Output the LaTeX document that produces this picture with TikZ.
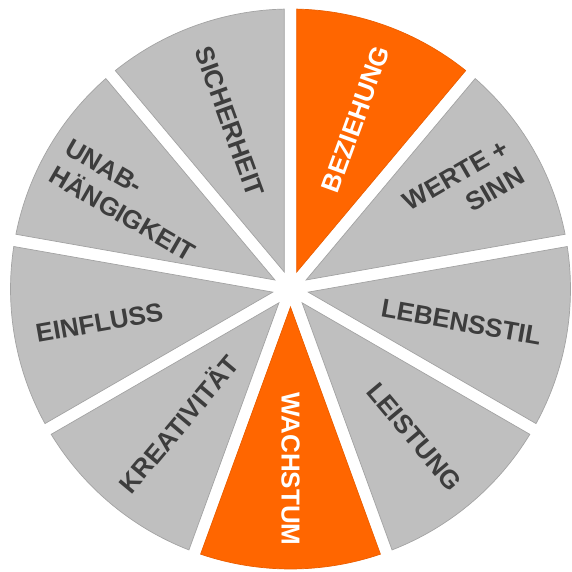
\documentclass[tikz,border=0pt]{standalone}
\usepackage{fontspec}
\setmainfont{Liberation Sans}
\usetikzlibrary{calc}
\definecolor{segGray}{HTML}{BFBFBF}
\definecolor{segEdge}{HTML}{A3A3A3}
\definecolor{segOrange}{HTML}{FF6600}
\definecolor{txtDark}{HTML}{3D3D3D}
\newcommand\mysector[2]{\path[#2] ($(C)+(#1:18)$) -- ($(C)+({#1+18.73}:280)$) arc[start angle={#1+18.73}, end angle={#1-18.73}, radius=280] -- cycle;}
\begin{document}
\begin{tikzpicture}[x=1pt,y=1pt]
\tikzset{
  sector/.style={fill=segGray, draw=segEdge, line width=0.7pt},
  hot/.style={fill=segOrange, draw=segOrange!92!black, line width=0.7pt},
  lbl/.style={font=\fontsize{26}{32}\selectfont\bfseries, text=txtDark, inner sep=0pt},
  lblw/.style={lbl, text=white}
}
\useasboundingbox (0,0) rectangle (571,572);
\coordinate (C) at (290.5,283);
\mysector{110}{sector}
\mysector{70}{hot}
\mysector{30}{sector}
\mysector{-10}{sector}
\mysector{-50}{sector}
\mysector{-90}{hot}
\mysector{-130}{sector}
\mysector{190}{sector}
\mysector{150}{sector}
\node[lbl, rotate=-70] (sich) at ($(C)+(110:178)$) {SICHERHEIT};
\node[lblw, rotate=70] (bez) at ($(C)+(69:182)$) {BEZIEHUNG};
\node[lbl, rotate=30, align=right] (werte) at ($(C)+(30:200)$) {WERTE +\\SINN};
\node[lbl, rotate=-10] (leb) at ($(C)+(-11:174)$) {LEBENSSTIL};
\node[lbl, rotate=-50] (leist) at ($(C)+(-50:193)$) {LEISTUNG};
\node[lblw, rotate=-90] (wachs) at ($(C)+(-90:180)$) {WACHSTUM};
\node[lbl, rotate=50] (krea) at ($(C)+(-130:175)$) {KREATIVITÄT};
\node[lbl, rotate=10] (einf) at ($(C)+(190:194)$) {EINFLUSS};
\node[lbl, rotate=-30, align=left] (unab) at ($(C)+(151:183)$) {UNAB-\\HÄNGIGKEIT};
\end{tikzpicture}
\end{document}
